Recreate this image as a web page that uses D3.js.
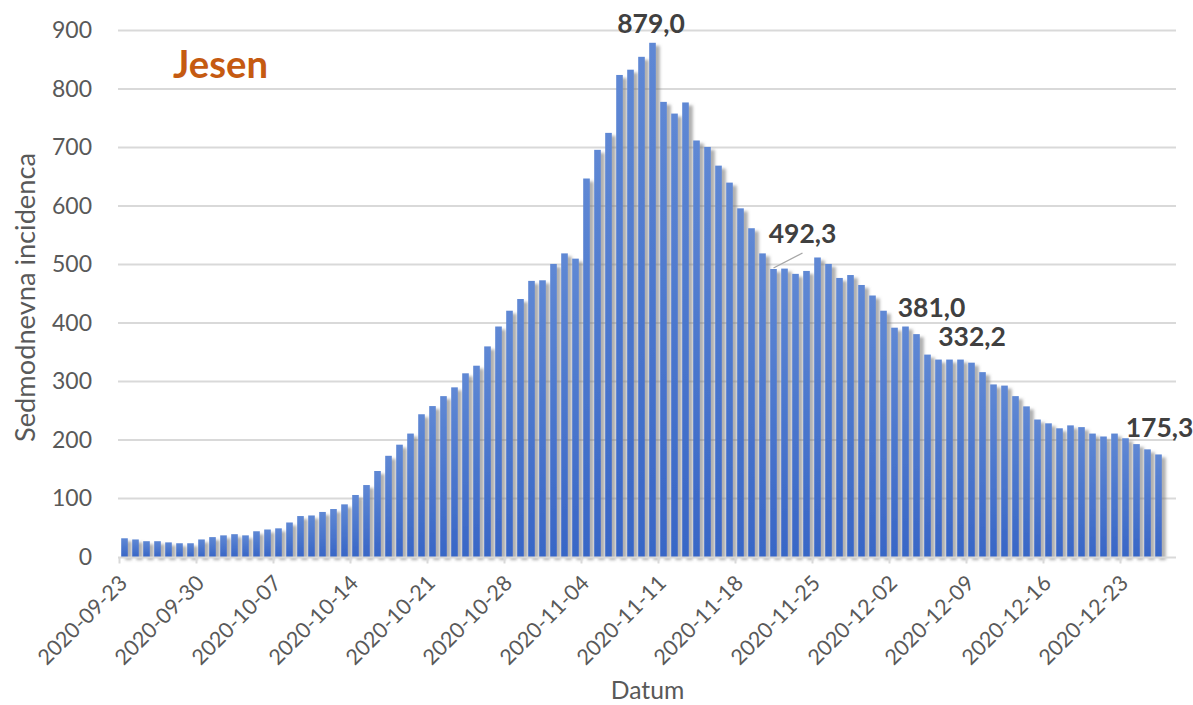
<!DOCTYPE html>
<html><head><meta charset="utf-8">
<script src="https://cdn.jsdelivr.net/npm/d3@7"></script>
<style>
html,body{margin:0;padding:0;background:#fff;}
text{font-family:Lato,"Open Sans",sans-serif;}
</style></head>
<body>
<script>
// ---------- data ----------
const dates = [
"2020-09-23","2020-09-24","2020-09-25","2020-09-26","2020-09-27","2020-09-28","2020-09-29","2020-09-30",
"2020-10-01","2020-10-02","2020-10-03","2020-10-04","2020-10-05","2020-10-06","2020-10-07","2020-10-08",
"2020-10-09","2020-10-10","2020-10-11","2020-10-12","2020-10-13","2020-10-14","2020-10-15","2020-10-16",
"2020-10-17","2020-10-18","2020-10-19","2020-10-20","2020-10-21","2020-10-22","2020-10-23","2020-10-24",
"2020-10-25","2020-10-26","2020-10-27","2020-10-28","2020-10-29","2020-10-30","2020-10-31",
"2020-11-01","2020-11-02","2020-11-03","2020-11-04","2020-11-05","2020-11-06","2020-11-07","2020-11-08",
"2020-11-09","2020-11-10","2020-11-11","2020-11-12","2020-11-13","2020-11-14","2020-11-15","2020-11-16",
"2020-11-17","2020-11-18","2020-11-19","2020-11-20","2020-11-21","2020-11-22","2020-11-23","2020-11-24",
"2020-11-25","2020-11-26","2020-11-27","2020-11-28","2020-11-29","2020-11-30",
"2020-12-01","2020-12-02","2020-12-03","2020-12-04","2020-12-05","2020-12-06","2020-12-07","2020-12-08",
"2020-12-09","2020-12-10","2020-12-11","2020-12-12","2020-12-13","2020-12-14","2020-12-15","2020-12-16",
"2020-12-17","2020-12-18","2020-12-19","2020-12-20","2020-12-21","2020-12-22","2020-12-23","2020-12-24",
"2020-12-25","2020-12-26"];
const incidence = [
32,30,27,27,25,23.5,23.5,30,
34,37,39,37,44,47,49,59,
70,71,77,82,90,106,123,147,
173,192,211,244,258,275,290,314,
327,360,394,421,441,472,473,
501,519,510,647,696,725,824,833,
855,879.0,778,758,777,712,701,669,
640,596,562,519,492.3,493,484,489,
512,501,477,482,465,447,
421,392,394,381.0,346,337.5,337.5,337.5,
332.2,316,295,293,275,257.5,235,228.5,
220,225,222,211,206,211,203,193,
184,175.3];
const axisStart = "2020-09-23";
const axisEnd = "2020-12-28";
const xTickLabels = ["2020-09-23","2020-09-30","2020-10-07","2020-10-14","2020-10-21","2020-10-28",
  "2020-11-04","2020-11-11","2020-11-18","2020-11-25","2020-12-02","2020-12-09","2020-12-16","2020-12-23"];
const yTicks = [0,100,200,300,400,500,600,700,800,900];
const labelledDates = ["2020-11-10","2020-11-21","2020-12-04","2020-12-09","2020-12-26"];
const titleText = "Jesen";
const yTitle = "Sedmodnevna incidenca";
const xTitle = "Datum";

// ---------- drawing ----------
const W = 1193, H = 705;
const parse = d3.utcParse("%Y-%m-%d");
const fmtLabel = v => d3.format(".1f")(v).replace(".", ",");

const svg = d3.select("body").append("svg").attr("width", W).attr("height", H);
const defs = svg.append("defs");
const grad = defs.append("linearGradient").attr("id","barGrad")
  .attr("x1",0).attr("y1",0).attr("x2",0).attr("y2",1);
grad.append("stop").attr("offset","0%").attr("stop-color","#5f88d4");
grad.append("stop").attr("offset","100%").attr("stop-color","#3866c6");
const filt = defs.append("filter").attr("id","shadow")
  .attr("x","-50%").attr("y","-10%").attr("width","250%").attr("height","130%");
filt.append("feDropShadow").attr("dx",4).attr("dy",3).attr("stdDeviation",1.4)
  .attr("flood-color","#7a7a7a").attr("flood-opacity",0.6);

// fit a text element's font size so its width equals target px
function fitWidth(sel, target) {
  const node = sel.node();
  const fs = parseFloat(sel.attr("font-size"));
  const len = node.getComputedTextLength();
  if (len > 0) sel.attr("font-size", (fs * target / len).toFixed(2) + "px");
  return sel;
}

const x = d3.scaleUtc().domain([parse(axisStart), parse(axisEnd)]).range([119, 1175]);
const y = d3.scaleLinear().domain([0, 900]).range([557, 30.5]);

// gridlines
svg.append("g").selectAll("line").data(yTicks.filter(t => t > 0)).join("line")
  .attr("x1", 118).attr("x2", 1176)
  .attr("y1", d => y(d)).attr("y2", d => y(d))
  .attr("stroke", "#d9d9d9").attr("stroke-width", 2);

// bars
const data = dates.map((d, i) => ({date: parse(d), key: d, value: incidence[i]}));
const dayW = x(parse("2020-09-24")) - x(parse("2020-09-23"));
const barW = dayW * 0.6;
svg.append("g").attr("filter","url(#shadow)")
  .selectAll("rect").data(data).join("rect")
  .attr("x", d => x(d.date) + (dayW - barW) / 2)
  .attr("width", barW)
  .attr("y", d => y(d.value))
  .attr("height", d => y(0) - y(d.value))
  .attr("fill", "url(#barGrad)");

// x axis
const xAxis = d3.axisBottom(x)
  .tickValues(xTickLabels.map(parse))
  .tickFormat(d3.utcFormat("%Y-%m-%d"))
  .tickSize(6).tickSizeOuter(0);
const gx = svg.append("g").attr("transform", "translate(0,557.5)").call(xAxis);
gx.select(".domain").attr("stroke", "#d9d9d9").attr("stroke-width", 2)
  .attr("d", "M118,0H1176");
gx.selectAll(".tick line").attr("stroke", "#d9d9d9").attr("stroke-width", 2);
gx.selectAll(".tick text")
  .attr("fill", "#595959").attr("font-size", "21.5px")
  .attr("text-anchor", "end").attr("dy", null).attr("y", null)
  .attr("transform", "translate(9,27) rotate(-45)");

// y axis
const yAxis = d3.axisLeft(y).tickValues(yTicks).tickSize(0).tickPadding(26);
const gy = svg.append("g").attr("transform", "translate(118,0)").call(yAxis);
gy.select(".domain").remove();
gy.selectAll(".tick text").attr("fill", "#595959").attr("font-size", "23px");

// axis titles
fitWidth(svg.append("text").attr("transform", "translate(35,297.5) rotate(-90)")
  .attr("text-anchor", "middle").attr("fill", "#595959").attr("font-size", "25px")
  .text(yTitle), 289);
fitWidth(svg.append("text").attr("x", 647.5).attr("y", 699)
  .attr("text-anchor", "middle").attr("fill", "#595959").attr("font-size", "25px")
  .text(xTitle), 73.5);

// chart title
fitWidth(svg.append("text").attr("x", 220.5).attr("y", 78)
  .attr("text-anchor", "middle").attr("fill", "#c55a11")
  .attr("font-size", "38px").attr("font-weight", "bold")
  .text(titleText), 95);

// data labels (offsets in px relative to the bar top / centre)
const labelOffsets = {
  "2020-11-10": {dx: -1.5, dy: -10},
  "2020-11-21": {dx: 29, dy: -26, leader: true},
  "2020-12-04": {dx: 15, dy: -17},
  "2020-12-09": {dx: 0.5, dy: -17},
  "2020-12-26": {dx: 1, dy: -17}
};
const lab = svg.append("g");
labelledDates.forEach(k => {
  const d = data.find(e => e.key === k);
  const o = labelOffsets[k];
  const cx = x(d.date) + dayW / 2;
  const ty = y(d.value);
  if (o.leader) {
    lab.append("line").attr("x1", cx).attr("y1", ty - 1)
      .attr("x2", cx + o.dx).attr("y2", ty + o.dy + 10)
      .attr("stroke", "#a6a6a6").attr("stroke-width", 1.3);
  }
  lab.append("text").attr("x", cx + o.dx).attr("y", ty + o.dy)
    .attr("text-anchor", "middle").attr("fill", "#404040")
    .attr("font-size", "26.5px").attr("font-weight", "bold")
    .text(fmtLabel(d.value));
});
</script>
</body></html>
